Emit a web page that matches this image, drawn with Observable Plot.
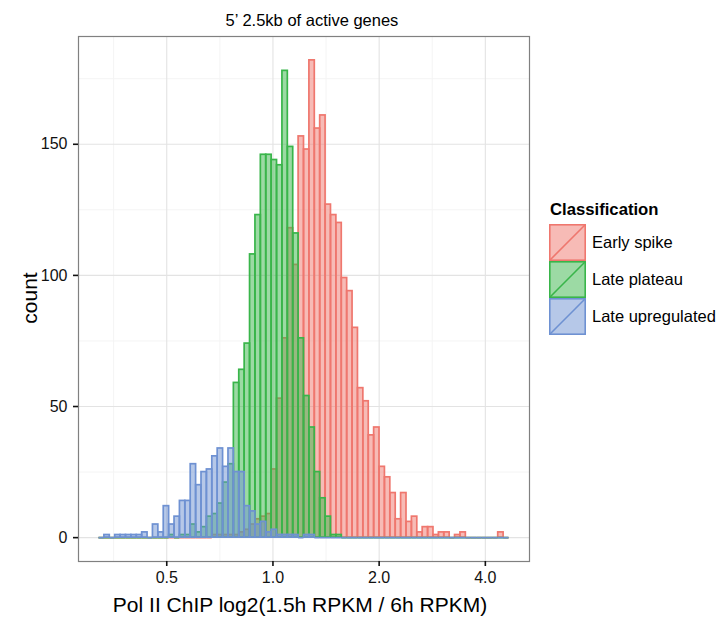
<!DOCTYPE html>
<html>
<head>
<meta charset="utf-8">
<script src="https://cdn.jsdelivr.net/npm/d3@7"></script>
<script src="https://cdn.jsdelivr.net/npm/@observablehq/plot@0.6"></script>
<style>
  body { margin: 0; background: #fff; font-family: "Liberation Sans", Arial, Helvetica, sans-serif; }
  #wrap { position: relative; width: 722px; height: 620px; overflow: hidden; }
  .lbl { position: absolute; white-space: nowrap; color: #000; }
  #title { left: 312px; top: 20px; transform: translate(-50%, -50%); font-size: 16.5px; }
  #xlab { left: 300px; top: 605px; transform: translate(-50%, -50%); font-size: 21px; }
  #ylab { left: 30px; top: 298px; transform: translate(-50%, -50%) rotate(-90deg); font-size: 21px; }
  #legend { position: absolute; left: 549px; top: 199px; }
  #legend .ltitle { font-weight: bold; font-size: 16.7px; height: 25px; line-height: 22px; padding-left: 1px; }
  #legend .row { display: flex; align-items: center; height: 37px; }
  #legend .row svg { display: block; margin-right: 6px; }
  #legend .row span { font-size: 16.5px; }
</style>
</head>
<body>
<div id="wrap">
  <div id="title" class="lbl">5’ 2.5kb of active genes</div>
  <div id="xlab" class="lbl">Pol II ChIP log2(1.5h RPKM / 6h RPKM)</div>
  <div id="ylab" class="lbl">count</div>
  <div id="legend"></div>
</div>
<script>
// ---- data ----
const series = ["Early spike", "Late plateau", "Late upregulated"];
const seriesColors = ["#EF776E", "#39B54A", "#6E91D2"];

// histogram bins in log2 units: first bin edge and bin width
const binStartLog2 = -1.638;
const binWidthLog2 = 0.0508;

// counts per bin (76 bins)
const earlySpike = [
  0,0,0,0,0,0,0,0,0,0,
  0,0,0,0,0,0,0,0,0,0,
  0,1,1,1,1,1,2,3,5,7,
  8,9,26,53,76,118,104,153,148,182,
  156,161,127,123,120,99,94,80,57,52,
  39,42,27,23,17,7,17,6,8,2,
  4,4,1,2,2,0,1,2,0,0,
  0,0,0,0,2,0
];
const latePlateau = [
  0,0,0,0,0,0,0,0,0,0,
  0,0,0,1,0,1,1,5,2,4,
  8,9,13,21,28,59,64,74,108,123,
  146,146,144,142,178,149,116,76,54,42,
  25,15,8,1,1,0,0,0,0,0,
  0,0,0,0,0,0,0,0,0,0,
  0,0,0,0,0,0,0,0,0,0,
  0,0,0,0,0,0
];
const lateUpregulated = [
  0,1,0,1,1,1,1,1,2,0,
  5,2,12,5,8,14,14,28,20,25,
  26,31,34,27,34,25,25,12,10,5,
  6,2,3,1,1,1,1,0,1,1,
  0,0,0,0,0,0,0,0,0,0,
  0,0,0,0,0,0,0,0,0,0,
  0,0,0,0,0,0,0,0,0,0,
  0,0,0,0,0,0
];

const xTicks = [0.5, 1, 2, 4];
const xMinor = [2 ** -1.5, 2 ** -0.5, 2 ** 0.5, 2 ** 1.5];
const yTicks = [0, 50, 100, 150];
const yMinor = [25, 75, 125, 175];

// ---- build table ----
const countsBySeries = [earlySpike, latePlateau, lateUpregulated];
const nBins = earlySpike.length;
const rows = [];
countsBySeries.forEach((counts, s) => {
  counts.forEach((c, i) => {
    rows.push({
      series: series[s],
      x1: 2 ** (binStartLog2 + i * binWidthLog2),
      x2: 2 ** (binStartLog2 + (i + 1) * binWidthLog2),
      count: c
    });
  });
});

// x domain: bin range expanded 5% each side (log2 space)
const lo = binStartLog2, hi = binStartLog2 + nBins * binWidthLog2;
const pad = (hi - lo) * 0.05;
const xDomain = [2 ** (lo - pad), 2 ** (hi + pad)];
const yMax = d3.max(rows, d => d.count);
const yDomain = [-yMax * 0.05, yMax * 1.05];

const barMarks = [];
series.forEach(s => {
  const r = rows.filter(d => d.series === s);
  barMarks.push(Plot.rectY(r.filter(d => d.count > 0), {
    x1: "x1", x2: "x2", y: "count", fill: "series", fillOpacity: 0.5,
    stroke: "series", strokeWidth: 1.7, inset: 0
  }));
  barMarks.push(Plot.ruleY(r.filter(d => d.count === 0), {
    x1: "x1", x2: "x2", y: "count", stroke: "series", strokeWidth: 1.7
  }));
});

const chart = Plot.plot({
  width: 722,
  height: 620,
  marginLeft: 78,
  marginRight: 193,
  marginTop: 36,
  marginBottom: 59,
  style: { fontFamily: "'Liberation Sans', Arial, Helvetica, sans-serif", fontSize: "16px", color: "#111", background: "#fff" },
  x: { type: "log", base: 2, domain: xDomain },
  y: { domain: yDomain },
  color: { domain: series, range: seriesColors },
  marks: [
    Plot.ruleX(xMinor, { stroke: "#F4F4F4", strokeWidth: 1 }),
    Plot.ruleY(yMinor, { stroke: "#F4F4F4", strokeWidth: 1 }),
    Plot.ruleX(xTicks, { stroke: "#E3E3E3", strokeWidth: 1.1 }),
    Plot.ruleY(yTicks, { stroke: "#E3E3E3", strokeWidth: 1.1 }),
    ...barMarks,
    Plot.frame({ stroke: "#808080", strokeWidth: 1.2 }),
    Plot.axisX(xTicks, { tickFormat: d3.format(".1f"), tickSize: 5, tickPadding: 5, strokeWidth: 1.6, label: null, fontSize: 16 }),
    Plot.axisY(yTicks, { tickSize: 5, tickPadding: 6, strokeWidth: 1.6, label: null, fontSize: 16 })
  ]
});
chart.style.position = "absolute";
chart.style.left = "0";
chart.style.top = "0";
document.getElementById("wrap").prepend(chart);

// ---- legend ----
const legend = document.getElementById("legend");
const lt = document.createElement("div");
lt.className = "ltitle";
lt.textContent = "Classification";
legend.appendChild(lt);
series.forEach((s, i) => {
  const row = document.createElement("div");
  row.className = "row";
  const c = seriesColors[i];
  row.innerHTML = `<svg width="37" height="37"><rect x="0.8" y="0.8" width="35.4" height="35.4" fill="${c}" fill-opacity="0.5" stroke="${c}" stroke-width="1.6"/><line x1="0.8" y1="36.2" x2="36.2" y2="0.8" stroke="${c}" stroke-width="1.6"/></svg><span>${s}</span>`;
  legend.appendChild(row);
});
</script>
</body>
</html>
